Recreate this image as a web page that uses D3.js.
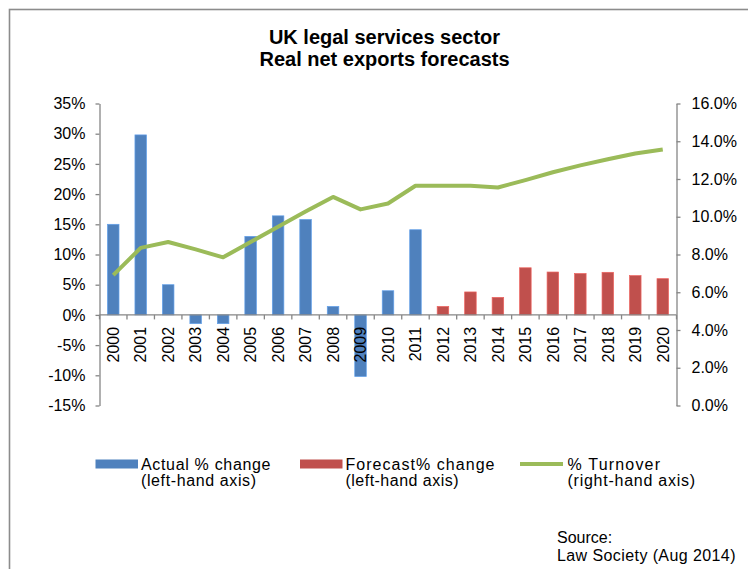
<!DOCTYPE html>
<html>
<head>
<meta charset="utf-8">
<script src="https://cdn.jsdelivr.net/npm/d3@7"></script>
<style>
  html, body { margin: 0; padding: 0; background: #fff; }
  svg { display: block; font-family: "Liberation Sans", Arial, sans-serif; }
  .axis path, .axis line { stroke: #868686; stroke-width: 1.3; }
  .axis text { font-size: 16px; fill: #000; }
</style>
</head>
<body>
<svg id="chart" width="748" height="569"></svg>
<script>
// Years on the category axis
const years = ["2000","2001","2002","2003","2004","2005","2006","2007","2008","2009","2010",
               "2011","2012","2013","2014","2015","2016","2017","2018","2019","2020"];
// Actual % change in real net exports (left-hand axis)
const actualChange = [15.0, 29.8, 5.0, -1.45, -1.45, 13.0, 16.4, 15.8, 1.4, -10.2, 4.0, 14.1,
                      null, null, null, null, null, null, null, null, null];
// Forecast % change (left-hand axis)
const forecastChange = [null, null, null, null, null, null, null, null, null, null, null, null,
                        1.4, 3.8, 2.9, 7.8, 7.1, 6.85, 7.05, 6.5, 6.0];
// Exports as % of turnover (right-hand axis)
const turnoverPct = [6.91, 8.35, 8.66, 8.27, 7.85, 8.66, 9.47, 10.28, 11.05, 10.39, 10.70,
                     11.64, 11.64, 11.64, 11.55, 11.94, 12.36, 12.72, 13.05, 13.35, 13.56];
// Tick values
const leftTicks = [-15, -10, -5, 0, 5, 10, 15, 20, 25, 30, 35];
const rightTicks = [0, 2, 4, 6, 8, 10, 12, 14, 16];

const svg = d3.select("#chart");
const plotLeft = 99.5, plotRight = 676.5, plotTop = 103.5, plotBottom = 405.5;

const x = d3.scaleBand().domain(years).range([plotLeft, plotRight]).paddingInner(0.58).paddingOuter(0.29);
const yL = d3.scaleLinear().domain([-15, 35]).range([plotBottom, plotTop]);
const yR = d3.scaleLinear().domain([0, 16]).range([plotBottom, plotTop]);

// Outer frame
svg.append("rect")
  .attr("x", 9.5).attr("y", 9.5).attr("width", 760).attr("height", 580)
  .attr("fill", "none").attr("stroke", "#8c8c8c").attr("stroke-width", 1.6);

// Title
const title = svg.append("text")
  .attr("text-anchor", "middle").attr("font-weight", "bold").attr("font-size", 20).attr("fill", "#000");
title.append("tspan").attr("x", 384.5).attr("y", 44).text("UK legal services sector");
title.append("tspan").attr("x", 384.5).attr("y", 65.7).text("Real net exports forecasts");

// Left axis
svg.append("g").attr("class", "axis").attr("transform", `translate(${plotLeft},0)`)
  .call(d3.axisLeft(yL).tickValues(leftTicks).tickSize(4).tickSizeOuter(0).tickPadding(10)
    .tickFormat(d => d + "%"));

// Right axis
svg.append("g").attr("class", "axis").attr("transform", `translate(${plotRight},0)`)
  .call(d3.axisRight(yR).tickValues(rightTicks).tickSize(4).tickSizeOuter(0).tickPadding(11)
    .tickFormat(d => d3.format(".1f")(d) + "%"));

// Bars
const barData = years.map((yr, i) => ({ yr, a: actualChange[i], f: forecastChange[i] }));
function drawBars(key, color) {
  svg.append("g").selectAll("rect")
    .data(barData.filter(d => d[key] !== null))
    .join("rect")
    .attr("x", d => x(d.yr))
    .attr("width", x.bandwidth())
    .attr("y", d => Math.min(yL(d[key]), yL(0)))
    .attr("height", d => Math.abs(yL(d[key]) - yL(0)))
    .attr("fill", color)
    .attr("stroke", d3.color(color).brighter(0.6))
    .attr("stroke-width", 0.7);
}
drawBars("a", "#4F81BD");
drawBars("f", "#C0504D");

// Category axis along the zero line
const xAxis = svg.append("g").attr("class", "axis").attr("transform", `translate(0,${yL(0)})`);
xAxis.append("line").attr("x1", plotLeft).attr("x2", plotRight).attr("y1", 0).attr("y2", 0);
const bounds = years.map(yr => x(yr) + x.bandwidth() / 2 - x.step() / 2).concat([plotRight]);
xAxis.selectAll("line.tick").data(bounds).join("line")
  .attr("class", "tick")
  .attr("x1", d => d).attr("x2", d => d).attr("y1", 0).attr("y2", 4.5);
xAxis.selectAll("text").data(years).join("text")
  .attr("transform", d => `translate(${x(d) + x.bandwidth() / 2},0) rotate(-90)`)
  .attr("x", -12).attr("dy", "0.36em")
  .attr("text-anchor", "end")
  .text(d => d);

// Turnover line
const line = d3.line()
  .x((d, i) => x(years[i]) + x.bandwidth() / 2)
  .y(d => yR(d));
svg.append("path")
  .datum(turnoverPct)
  .attr("d", line)
  .attr("fill", "none")
  .attr("stroke", "#9BBB59")
  .attr("stroke-width", 4)
  .attr("stroke-linejoin", "round");

// Legend
const legend = svg.append("g").attr("font-size", 16).attr("fill", "#000");
const items = [
  { kind: "bar", color: "#4F81BD", sx: 95.5, tx: 141, l1: "Actual % change", w1: 129.5, l2: "(left-hand axis)", w2: 115 },
  { kind: "bar", color: "#C0504D", sx: 300, tx: 345.5, l1: "Forecast% change", w1: 149, l2: "(left-hand axis)", w2: 113 },
  { kind: "line", color: "#9BBB59", sx: 520, tx: 567.5, l1: "% Turnover", w1: 92.5, l2: "(right-hand axis)", w2: 127.5 }
];
items.forEach(it => {
  if (it.kind === "bar") {
    legend.append("rect").attr("x", it.sx).attr("y", 459.5).attr("width", 42.5).attr("height", 9)
      .attr("fill", it.color);
  } else {
    legend.append("line").attr("x1", it.sx).attr("x2", it.sx + 43).attr("y1", 464).attr("y2", 464)
      .attr("stroke", it.color).attr("stroke-width", 4);
  }
  legend.append("text").attr("x", it.tx).attr("y", 470)
    .attr("textLength", it.w1).attr("lengthAdjust", "spacing").text(it.l1);
  legend.append("text").attr("x", it.tx).attr("y", 485.5)
    .attr("textLength", it.w2).attr("lengthAdjust", "spacing").text(it.l2);
});

// Source note
const src = svg.append("g").attr("font-size", 16).attr("fill", "#000");
src.append("text").attr("x", 557).attr("y", 543.3).text("Source:");
src.append("text").attr("x", 557).attr("y", 560.7)
  .attr("textLength", 178.5).attr("lengthAdjust", "spacing").text("Law Society (Aug 2014)");
</script>
</body>
</html>
